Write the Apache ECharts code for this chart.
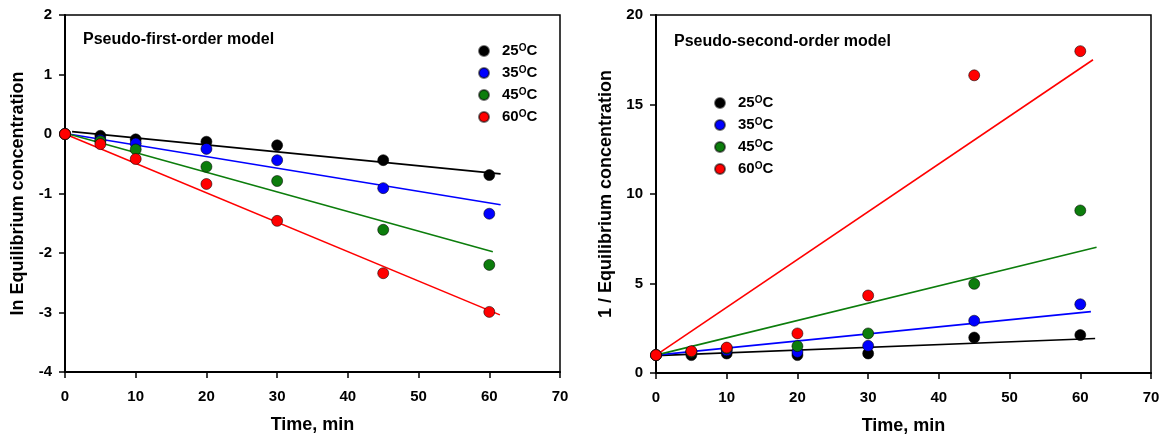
<!DOCTYPE html>
<html>
<head>
<meta charset="utf-8">
<script src="https://cdn.jsdelivr.net/npm/echarts@6/dist/echarts.min.js"></script>
<style>
  html, body { margin: 0; padding: 0; background: #fff; }
  #chart { width: 1163px; height: 436px; }
</style>
</head>
<body>
<div id="chart"></div>
<script>
// data
var timeMin = [0, 5, 10, 20, 30, 45, 60];
var tempNames = ['25°C', '35°C', '45°C', '60°C'];
var colors = ['#000000', '#0000ff', '#0c7d0c', '#ff0000'];

// pseudo-first-order: ln equilibrium concentration
var ln25 = [0, -0.03, -0.09, -0.13, -0.19, -0.44, -0.69];
var ln35 = [0, -0.10, -0.16, -0.25, -0.44, -0.91, -1.34];
var ln45 = [0, -0.12, -0.26, -0.55, -0.79, -1.61, -2.20];
var ln60 = [0, -0.17, -0.42, -0.84, -1.46, -2.34, -2.99];
// fit lines [x, y] end points
var fitLn25 = [[1, 0.04], [61.6, -0.67]];
var fitLn35 = [[0.5, 0], [61.6, -1.19]];
var fitLn45 = [[0.5, 0], [60.5, -1.98]];
var fitLn60 = [[0, 0], [61.5, -3.04]];

// pseudo-second-order: 1 / equilibrium concentration
var inv25 = [1, 1.00, 1.09, 1.00, 1.09, 1.98, 2.12];
var inv35 = [1, 1.18, 1.27, 1.18, 1.52, 2.92, 3.84];
var inv45 = [1, 1.18, 1.37, 1.50, 2.21, 4.98, 9.08];
var inv60 = [1, 1.22, 1.42, 2.21, 4.33, 16.63, 17.98];
var fitInv25 = [[0, 0.97], [62.1, 1.93]];
var fitInv35 = [[0, 1], [61.5, 3.43]];
var fitInv45 = [[0, 1], [62.3, 7.02]];
var fitInv60 = [[0, 1], [61.8, 17.5]];

var FONT = 'Liberation Sans, Arial, sans-serif';

function pairs(ys) {
    return timeMin.map(function (t, i) { return [t, ys[i]]; });
}

function scatter(name, ys, idx, color) {
    return {
        type: 'scatter', name: name, xAxisIndex: idx, yAxisIndex: idx,
        data: pairs(ys), symbolSize: 11, z: 5,
        itemStyle: { color: color, borderColor: 'rgba(0,0,0,0.55)', borderWidth: 1, opacity: 1 }
    };
}

function fit(name, pts, idx, color) {
    return {
        type: 'line', name: name + ' fit', xAxisIndex: idx, yAxisIndex: idx,
        data: pts, symbol: 'none', z: 3, silent: true,
        lineStyle: { color: color, width: 1.6 }
    };
}

function xAxis(idx) {
    return {
        type: 'value', gridIndex: idx, min: 0, max: 70, interval: 10,
        name: 'Time, min', nameLocation: 'middle', nameGap: 44,
        nameTextStyle: { fontFamily: FONT, fontWeight: 'bold', fontSize: 18, color: '#000' },
        axisLine: { onZero: false, lineStyle: { color: '#000', width: 2 } },
        axisTick: { length: 6, lineStyle: { color: '#000', width: 1.5 } },
        axisLabel: { margin: 17, fontFamily: FONT, fontWeight: 'bold', fontSize: 15, color: '#000' },
        splitLine: { show: false }
    };
}

function yAxis(idx, name, min, max, step, gap) {
    return {
        type: 'value', gridIndex: idx, min: min, max: max, interval: step,
        name: name, nameLocation: 'middle', nameGap: gap,
        nameTextStyle: { fontFamily: FONT, fontWeight: 'bold', fontSize: 18, color: '#000' },
        axisLine: { onZero: false, lineStyle: { color: '#000', width: 2 } },
        axisTick: { length: 6, lineStyle: { color: '#000', width: 1.5 } },
        axisLabel: { margin: 13, fontFamily: FONT, fontWeight: 'bold', fontSize: 15, color: '#000' },
        splitLine: { show: false }
    };
}

function legend(left, top) {
    return {
        orient: 'vertical', left: left, top: top, data: tempNames,
        icon: 'circle', itemWidth: 10, itemHeight: 10, itemGap: 6,
        selectedMode: false,
        formatter: function (n) { return n.replace('°C', '{s|O}C'); },
        textStyle: {
            fontFamily: FONT, fontWeight: 'bold', fontSize: 15, color: '#000',
            lineHeight: 16, padding: [0, 0, 0, 8],
            rich: { s: { fontFamily: FONT, fontWeight: 'bold', fontSize: 10, verticalAlign: 'top', lineHeight: 10, color: '#000' } }
        }
    };
}

var chart = echarts.init(document.getElementById('chart'));

var series = [
    fit(tempNames[0], fitLn25, 0, colors[0]),
    fit(tempNames[1], fitLn35, 0, colors[1]),
    fit(tempNames[2], fitLn45, 0, colors[2]),
    fit(tempNames[3], fitLn60, 0, colors[3]),
    scatter(tempNames[0], ln25, 0, colors[0]),
    scatter(tempNames[1], ln35, 0, colors[1]),
    scatter(tempNames[2], ln45, 0, colors[2]),
    scatter(tempNames[3], ln60, 0, colors[3]),
    fit(tempNames[0], fitInv25, 1, colors[0]),
    fit(tempNames[1], fitInv35, 1, colors[1]),
    fit(tempNames[2], fitInv45, 1, colors[2]),
    fit(tempNames[3], fitInv60, 1, colors[3]),
    scatter(tempNames[0], inv25, 1, colors[0]),
    scatter(tempNames[1], inv35, 1, colors[1]),
    scatter(tempNames[2], inv45, 1, colors[2]),
    scatter(tempNames[3], inv60, 1, colors[3])
];

var option = {
    animation: false,
    backgroundColor: '#fff',
    title: [
        { text: 'Pseudo-first-order model', left: 83, top: 32, padding: 0,
          textStyle: { fontFamily: FONT, fontWeight: 'bold', fontSize: 16, color: '#000' } },
        { text: 'Pseudo-second-order model', left: 674, top: 34, padding: 0,
          textStyle: { fontFamily: FONT, fontWeight: 'bold', fontSize: 16, color: '#000' } }
    ],
    legend: [legend(473, 38), legend(709, 90)],
    grid: [
        { left: 65, top: 15, width: 495, height: 357, outerBoundsMode: 'none',
          show: true, borderColor: '#000', borderWidth: 1.5 },
        { left: 656, top: 15, width: 495, height: 358, outerBoundsMode: 'none',
          show: true, borderColor: '#000', borderWidth: 1.5 }
    ],
    xAxis: [xAxis(0), xAxis(1)],
    yAxis: [
        yAxis(0, 'In Equilibrium concentration', -4, 2, 1, 38),
        yAxis(1, '1 / Equilibrium concentration', 0, 20, 5, 41)
    ],
    series: series
};

chart.setOption(option);
</script>
</body>
</html>
